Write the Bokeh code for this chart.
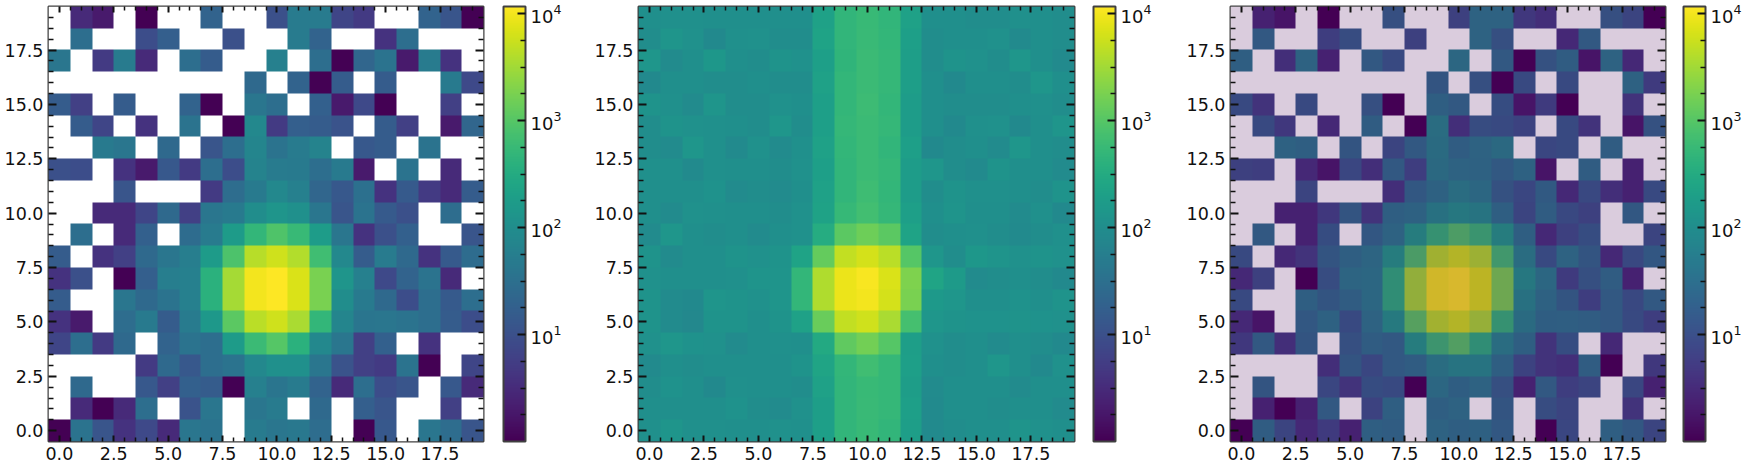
import numpy as np
from bokeh.embed import file_html
from bokeh.layouts import row
from bokeh.models import (ColorBar, CustomJSTickFormatter, FixedTicker, LinearAxis, LogColorMapper,
                          LogTickFormatter, NumeralTickFormatter, Range1d)
from bokeh.palettes import Viridis256
from bokeh.plotting import figure
from bokeh.resources import INLINE

# Rows listed from y=19 down to y=0; 0 means an empty (white) cell.
sparse_counts = [
    [0,3,2,0,1,0,0,20,0,0,10,50,50,7,5,0,0,20,12,1],
    [0,30,0,0,9,17,0,0,10,0,0,50,20,0,0,4,30,0,0,0],
    [40,0,5,50,3,0,30,15,0,0,60,0,30,1,22,35,2,50,4,0],
    [0,0,0,0,0,0,0,0,0,25,0,20,1,15,0,15,0,0,45,8],
    [15,6,0,15,0,0,20,1,0,40,30,0,18,2,8,1,0,0,6,0],
    [0,15,7,0,4,0,35,0,1,80,5,17,15,11,0,15,6,0,2,22],
    [0,0,45,40,0,25,0,12,30,70,35,50,65,0,13,15,0,35,0,0],
    [10,9,0,4,2,13,5,30,9,65,50,45,30,45,2,0,35,0,3,0],
    [0,0,0,12,0,0,0,5,28,45,80,60,22,13,32,4,14,5,3,15],
    [0,0,3,3,7,25,6,40,45,100,130,110,40,12,35,14,10,0,28,0],
    [0,30,0,3,18,0,27,50,170,500,900,550,180,40,4,10,18,0,0,12],
    [15,0,4,6,25,40,55,170,850,4200,6000,4000,650,80,15,50,25,4,14,27],
    [4,10,0,1,17,55,60,400,3300,10000,11700,7000,1800,130,60,8,20,35,3,0],
    [15,0,0,40,25,35,60,400,3300,10000,11500,7000,1800,100,45,25,9,30,14,30],
    [4,2,0,28,45,15,50,150,1100,4500,6000,3500,500,70,38,40,35,30,15,9],
    [7,30,5,25,0,20,35,30,170,600,1000,400,80,40,6,18,0,4,0,0],
    [0,0,0,0,5,25,13,30,35,80,110,110,40,11,6,5,35,1,0,7],
    [0,25,0,0,13,6,18,15,1,60,38,50,20,3,30,9,12,0,13,3],
    [0,3,1,3,30,0,11,40,0,40,50,0,25,0,17,12,0,0,6,0],
    [1,35,12,4,8,3,40,35,0,50,40,42,28,0,1,13,0,40,28,12],
]
background_counts = [
    [105,112,112,108,108,108,105,105,210,480,560,480,210,105,108,97,97,112,108,100],
    [100,132,115,85,112,115,97,97,225,480,570,500,200,100,105,108,115,90,105,100],
    [135,92,108,142,108,97,122,115,200,460,590,510,190,97,122,115,97,135,105,90],
    [85,105,105,100,97,108,100,97,210,500,600,510,190,105,85,108,108,97,135,108],
    [122,112,92,132,97,100,115,108,200,500,620,500,180,108,97,100,100,105,112,100],
    [100,122,115,112,108,97,135,100,200,510,600,510,175,105,85,112,115,85,108,132],
    [100,92,135,112,90,115,92,112,210,490,590,480,200,85,100,108,92,135,108,100],
    [112,112,90,112,108,105,100,115,200,480,600,510,175,135,97,90,122,108,105,92],
    [108,108,105,118,92,97,92,105,210,480,640,500,180,97,125,112,112,105,100,125],
    [105,92,115,112,108,108,97,115,220,540,680,510,200,105,128,105,105,92,112,85],
    [92,135,105,100,108,92,108,115,330,1100,1500,1100,230,100,105,112,100,90,100,112],
    [122,92,105,108,122,115,122,225,1300,5000,6300,4500,1000,135,100,142,128,115,122,115],
    [115,105,105,105,112,128,128,500,3800,9000,10500,7000,1900,240,165,92,100,108,97,85],
    [122,92,85,132,122,115,132,500,3800,9000,10000,6500,1800,160,135,105,105,118,108,122],
    [122,92,80,122,125,105,125,215,1400,5000,6000,3600,750,135,122,118,118,122,118,115],
    [115,135,118,115,92,105,112,105,300,1200,1600,1000,190,115,100,105,92,105,97,85],
    [90,105,100,105,108,105,108,122,240,500,660,510,200,105,100,105,135,105,85,115],
    [97,118,108,85,112,108,105,97,210,480,560,520,185,92,105,105,105,92,105,108],
    [108,105,105,108,118,100,92,115,190,480,570,510,200,90,105,105,97,105,105,92],
    [112,132,112,112,108,105,115,112,200,470,560,480,190,90,97,108,108,128,115,108],
]
axis_ticks = [0, 2.5, 5, 7.5, 10, 12.5, 15, 17.5]
axis_minor_ticks = [0.5,1,1.5,2,3,3.5,4,4.5,5.5,6,6.5,7,8,8.5,9,9.5,10.5,11,11.5,12,13,13.5,14,14.5,15.5,16,16.5,17,18,18.5,19]
cbar_ticks = [10, 100, 1000, 10000]
cbar_minor_ticks = [10 ** (k / 4) for k in range(1, 17) if k % 4]
cmap_low, cmap_high = 1, 11700
veil_color, veil_alpha = "#440154", 0.2

FRAME = "#404040"
FONT = "DejaVu Sans"
FS = "17.5px"
SHARP = 22  # nearest-neighbour upsampling so the browser does not blur cell edges


def panel(rows, fig_w, left, frame_w, cbar_gap, cbar_w, veil=False):
    arr = np.array(rows, dtype=float)[::-1]
    arr[arr <= 0] = np.nan
    mapper = LogColorMapper(palette=Viridis256, low=cmap_low, high=cmap_high, nan_color="white")
    top, frame_h = 6, 435
    p = figure(width=fig_w, height=470, frame_width=frame_w, frame_height=frame_h,
               x_range=Range1d(-0.5, 19.5), y_range=Range1d(-0.5, 19.5),
               output_backend="svg", toolbar_location=None,
               min_border_left=left, min_border_top=top, min_border_right=fig_w - left - frame_w,
               min_border_bottom=470 - top - frame_h,
               x_axis_location=None, y_axis_location=None, background_fill_color="white", border_fill_color=None)
    p.grid.visible = False
    fine = np.repeat(np.repeat(arr, SHARP, axis=0), SHARP, axis=1)
    p.image(image=[fine], x=-0.5, y=-0.5, dw=arr.shape[1], dh=arr.shape[0], color_mapper=mapper)
    if veil:
        p.quad(left=[-0.5], right=[-0.5 + arr.shape[1]], bottom=[-0.5], top=[-0.5 + arr.shape[0]],
               fill_color=veil_color, fill_alpha=veil_alpha, line_color=None)
    p.outline_line_color = FRAME
    p.outline_line_width = 2
    blank = CustomJSTickFormatter(code="return ''")
    for side in ("left", "right", "above", "below"):
        labelled = side in ("left", "below")
        vertical = side in ("left", "right")
        ax = LinearAxis(ticker=FixedTicker(ticks=axis_ticks, minor_ticks=axis_minor_ticks),
                        formatter=NumeralTickFormatter(format="0.0") if labelled else blank,
                        axis_line_color=None,
                        major_tick_in=8 if vertical else 6, major_tick_out=0,
                        minor_tick_in=5 if vertical else 4, minor_tick_out=0,
                        major_tick_line_color="#111111", minor_tick_line_color="#111111",
                        major_tick_line_width=2, minor_tick_line_width=1.5,
                        major_label_standoff=5 if labelled else 0,
                        major_label_text_font=FONT, major_label_text_font_size=FS,
                        major_label_text_color="#111111")
        if side == "left":
            ax.major_label_orientation = "horizontal"
        p.add_layout(ax, side)
    cb = ColorBar(color_mapper=mapper, ticker=FixedTicker(ticks=cbar_ticks, minor_ticks=cbar_minor_ticks),
                  formatter=LogTickFormatter(), width=cbar_w, height=frame_h, margin=0, padding=0,
                  location=(cbar_gap, 0), bar_line_color=FRAME, bar_line_width=2,
                  major_tick_line_color="#111111", major_tick_line_width=2, major_tick_in=8, major_tick_out=0,
                  minor_tick_line_color="#111111", minor_tick_line_width=1.5, minor_tick_in=5, minor_tick_out=0,
                  major_label_text_font=FONT, major_label_text_font_size="18px", major_label_text_color="#111111",
                  label_standoff=5)
    p.add_layout(cb, "right")
    return p


p1 = panel(sparse_counts, 590, 48, 435, 20, 22)
p2 = panel(background_counts, 590, 48, 436, 19, 22)
p3 = panel(sparse_counts, 567, 50, 435, 18, 22, veil=True)

p = row(p1, p2, p3, spacing=0, styles={"position": "absolute", "left": "0px", "top": "0px"})
open("out.html", "w").write(file_html(p, INLINE))
